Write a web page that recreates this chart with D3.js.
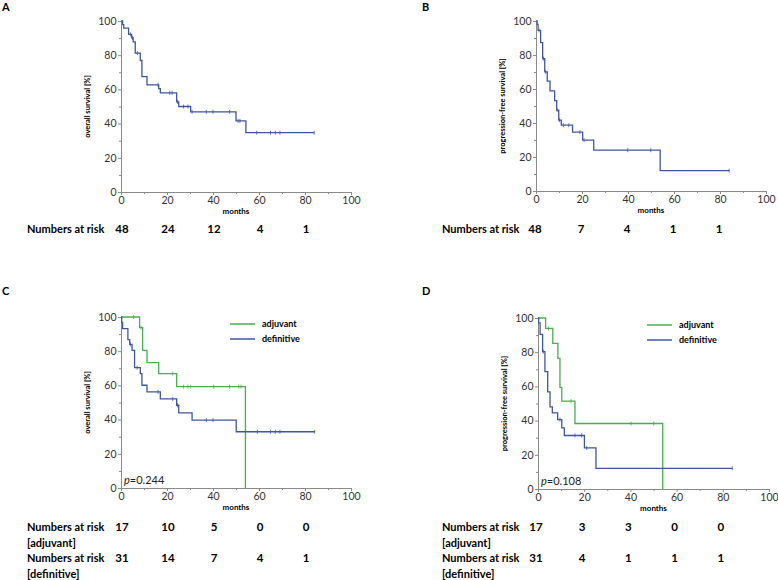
<!DOCTYPE html>
<html>
<head>
<meta charset="utf-8">
<script src="https://cdn.jsdelivr.net/npm/d3@7"></script>
<style>
  body { margin: 0; background: #fff; }
  svg { display: block; font-family: Lato, "Open Sans", sans-serif; }
  .axis path, .axis line { stroke: #8a8a8a; stroke-width: 1; }
  .axis text { fill: #333; font-size: 10.5px; font-family: Lato, sans-serif; }
</style>
</head>
<body>
<svg width="778" height="580"></svg>
<script>
// Kaplan-Meier step points: [month, survival %]
const osAllSteps = [[0, 100], [0.7, 97.9], [1.2, 95.8], [3.3, 92.2], [4.6, 90.1], [5.3, 87.8], [6.2, 81.2], [8.4, 76.9], [9.1, 67.5], [11.3, 62.7], [16.4, 60.5], [17.1, 58.0], [24.2, 52.7], [25.1, 50.0], [30.3, 46.9], [50.0, 41.6], [54.3, 34.7], [84.0, 34.7]];
const osAllCensor = [4.1, 5.0, 7.1, 16.1, 21.2, 22.2, 24.6, 27.2, 29.1, 30.9, 37.1, 40.0, 47.2, 50.9, 51.7, 59.0, 65.0, 67.1, 69.1, 84.0];

const pfsAllSteps = [[0, 100], [0.5, 98.0], [0.9, 94.5], [2.0, 87.3], [2.9, 77.9], [3.8, 70.1], [4.9, 64.6], [6.1, 58.9], [8.1, 53.2], [9.0, 47.6], [9.9, 41.7], [11.0, 38.7], [15.9, 34.6], [20.3, 29.9], [25.1, 24.0], [54.0, 12.0], [84.0, 12.0]];
const pfsAllCensor = [1.3, 3.2, 4.2, 9.2, 10.2, 11.9, 14.3, 19.1, 20.9, 39.9, 49.9, 84.0];

const osAdjSteps = [[0, 100], [8.1, 93.8], [9.4, 80.5], [11.3, 73.3], [16.4, 66.9], [24.2, 59.3], [54.1, 0], [54.1, 0]];
const osAdjCensor = [5.5, 8.7, 22.5, 27.2, 29.1, 30.3, 40.3, 47.2, 51.2, 52.2];
const osDefSteps = [[0, 100], [0.3, 96.8], [0.7, 93.2], [3.0, 86.8], [3.8, 84.0], [4.8, 80.5], [5.9, 70.4], [8.4, 66.9], [9.1, 60.1], [11.3, 56.2], [17.1, 52.1], [24.2, 48.4], [25.1, 43.9], [30.9, 39.7], [50.1, 32.9], [84.2, 32.9]];
const osDefCensor = [4.1, 7.0, 16.1, 22.5, 24.6, 37.1, 40.0, 59.3, 65.0, 67.1, 69.1, 84.2];

const pfsAdjSteps = [[0, 100], [3.3, 93.9], [6.4, 85.2], [8.6, 76.4], [9.5, 59.4], [10.3, 51.4], [16.0, 38.3], [54.0, 0], [54.0, 0]];
const pfsAdjCensor = [4.5, 14.3, 40.3, 50.1];
const pfsDefSteps = [[0, 100], [0.3, 97.1], [0.9, 90.4], [2.0, 80.3], [3.0, 68.6], [4.2, 56.8], [5.2, 48.0], [6.2, 44.5], [8.5, 40.6], [10.3, 35.8], [11.4, 31.3], [20.1, 24.0], [25.1, 12.1], [84.1, 12.1]];
const pfsDefCensor = [2.3, 9.5, 16.0, 18.9, 21.1, 84.1];

// numbers at risk at these months
const riskMonths = [0, 20, 40, 60, 80];
const riskA = [48, 24, 12, 4, 1];
const riskB = [48, 7, 4, 1, 1];
const riskCAdj = [17, 10, 5, 0, 0];
const riskCDef = [31, 14, 7, 4, 1];
const riskDAdj = [17, 3, 3, 0, 0];
const riskDDef = [31, 4, 1, 1, 1];

const majorTicks = [0, 20, 40, 60, 80, 100];
const minorTicks = [10, 30, 50, 70, 90];

const blue = '#3f56a3', green = '#45b04c';
const svg = d3.select('svg');

function survAt(steps, t) {
  let s = steps[0][1];
  steps.forEach(function(d) { if (d[0] <= t) s = d[1]; });
  return s;
}

function drawPanel(p) {
  const x = d3.scaleLinear().domain([0, 100]).range([p.left, p.right]);
  const y = d3.scaleLinear().domain([0, 100]).range([p.bottom, p.top]);
  const g = svg.append('g');

  g.append('text')
    .attr('x', p.letterX).attr('y', p.letterY)
    .style('font-size', '11px').style('font-weight', 'bold')
    .text(p.letter);

  // minor ticks first, then main axes on top
  g.append('g').attr('class', 'axis')
    .attr('transform', 'translate(0,' + p.bottom + ')')
    .call(d3.axisBottom(x).tickValues(minorTicks).tickSize(2).tickFormat(''))
    .select('.domain').remove();
  g.append('g').attr('class', 'axis')
    .attr('transform', 'translate(' + p.left + ',0)')
    .call(d3.axisLeft(y).tickValues(minorTicks).tickSize(2).tickFormat(''))
    .select('.domain').remove();

  g.append('g').attr('class', 'axis')
    .attr('transform', 'translate(0,' + p.bottom + ')')
    .call(d3.axisBottom(x).tickValues(majorTicks).tickSize(3).tickSizeOuter(0).tickPadding(1.5));
  g.append('g').attr('class', 'axis')
    .attr('transform', 'translate(' + p.left + ',0)')
    .call(d3.axisLeft(y).tickValues(majorTicks).tickSize(3).tickSizeOuter(0).tickPadding(1.5));

  g.append('text')
    .attr('x', (p.left + p.right) / 2).attr('y', p.bottom + 22)
    .attr('text-anchor', 'middle')
    .style('font-size', '8px').style('font-weight', 'bold')
    .text('months');

  g.append('text')
    .attr('transform', 'translate(' + (p.left - 31) + ',' + ((p.top + p.bottom) / 2) + ') rotate(-90)')
    .attr('text-anchor', 'middle')
    .style('font-size', '7.5px').style('font-weight', 'bold')
    .text(p.yLabel);

  const line = d3.line()
    .x(function(d) { return x(d[0]); })
    .y(function(d) { return y(d[1]); })
    .curve(d3.curveStepAfter);

  p.curves.forEach(function(c) {
    g.append('path')
      .attr('d', line(c.steps))
      .attr('fill', 'none')
      .attr('stroke', c.color)
      .attr('stroke-width', 1.3);

    g.selectAll(null)
      .data(c.censor)
      .enter().append('line')
        .attr('x1', function(d) { return x(d); })
        .attr('x2', function(d) { return x(d); })
        .attr('y1', function(d) { return y(survAt(c.steps, d)) - 2; })
        .attr('y2', function(d) { return y(survAt(c.steps, d)) + 2; })
        .attr('stroke', c.color)
        .attr('stroke-width', 0.8);
  });

  if (p.legend) {
    p.curves.forEach(function(c, i) {
      const ly = p.top + 7 + i * 15;
      g.append('line')
        .attr('x1', p.left + 109).attr('x2', p.left + 134)
        .attr('y1', ly).attr('y2', ly)
        .attr('stroke', c.color).attr('stroke-width', 1.5);
      g.append('text')
        .attr('x', p.left + 141).attr('y', ly + 3)
        .style('font-size', '9px').style('font-weight', 'bold')
        .text(c.name);
    });
  }

  if (p.pValue) {
    const t = g.append('text')
      .attr('x', p.left + 3).attr('y', p.bottom - 4)
      .style('font-size', '11px').style('fill', '#222');
    t.append('tspan').style('font-style', 'italic').text('p');
    t.append('tspan').text('=' + p.pValue);
  }

  p.risk.forEach(function(r) {
    r.label.forEach(function(txt, i) {
      g.append('text')
        .attr('x', p.riskX).attr('y', r.y + i * 16)
        .style('font-size', '11px').style('font-weight', 'bold')
        .text(txt);
    });
    g.selectAll(null)
      .data(r.values)
      .enter().append('text')
        .attr('x', function(d, i) { return x(riskMonths[i]) + p.riskShift; })
        .attr('y', r.y)
        .attr('text-anchor', 'middle')
        .style('font-size', '11.5px').style('font-weight', 'bold')
        .text(function(d) { return d; });
  });
}

drawPanel({
  letter: 'A', letterX: 2, letterY: 11,
  left: 121, right: 351, top: 21, bottom: 192,
  yLabel: 'overall survival [%]',
  curves: [{ steps: osAllSteps, censor: osAllCensor, color: blue }],
  riskX: 27, riskShift: 1,
  risk: [{ y: 233, label: ['Numbers at risk'], values: riskA }]
});

drawPanel({
  letter: 'B', letterX: 422, letterY: 11,
  left: 536, right: 766, top: 21, bottom: 191,
  yLabel: 'progression-free survival [%]',
  curves: [{ steps: pfsAllSteps, censor: pfsAllCensor, color: blue }],
  riskX: 442, riskShift: -1,
  risk: [{ y: 233, label: ['Numbers at risk'], values: riskB }]
});

drawPanel({
  letter: 'C', letterX: 2, letterY: 295,
  left: 121, right: 351, top: 317, bottom: 488,
  yLabel: 'overall survival [%]',
  legend: true, pValue: '0.244',
  curves: [
    { name: 'adjuvant', steps: osAdjSteps, censor: osAdjCensor, color: green },
    { name: 'definitive', steps: osDefSteps, censor: osDefCensor, color: blue }
  ],
  riskX: 27, riskShift: 1,
  risk: [
    { y: 531, label: ['Numbers at risk', '[adjuvant]'], values: riskCAdj },
    { y: 562, label: ['Numbers at risk', '[definitive]'], values: riskCDef }
  ]
});

drawPanel({
  letter: 'D', letterX: 422, letterY: 295,
  left: 538, right: 769, top: 318, bottom: 489,
  yLabel: 'progression-free survival [%]',
  legend: true, pValue: '0.108',
  curves: [
    { name: 'adjuvant', steps: pfsAdjSteps, censor: pfsAdjCensor, color: green },
    { name: 'definitive', steps: pfsDefSteps, censor: pfsDefCensor, color: blue }
  ],
  riskX: 442, riskShift: -2,
  risk: [
    { y: 531, label: ['Numbers at risk', '[adjuvant]'], values: riskDAdj },
    { y: 562, label: ['Numbers at risk', '[definitive]'], values: riskDDef }
  ]
});
</script>
</body>
</html>
